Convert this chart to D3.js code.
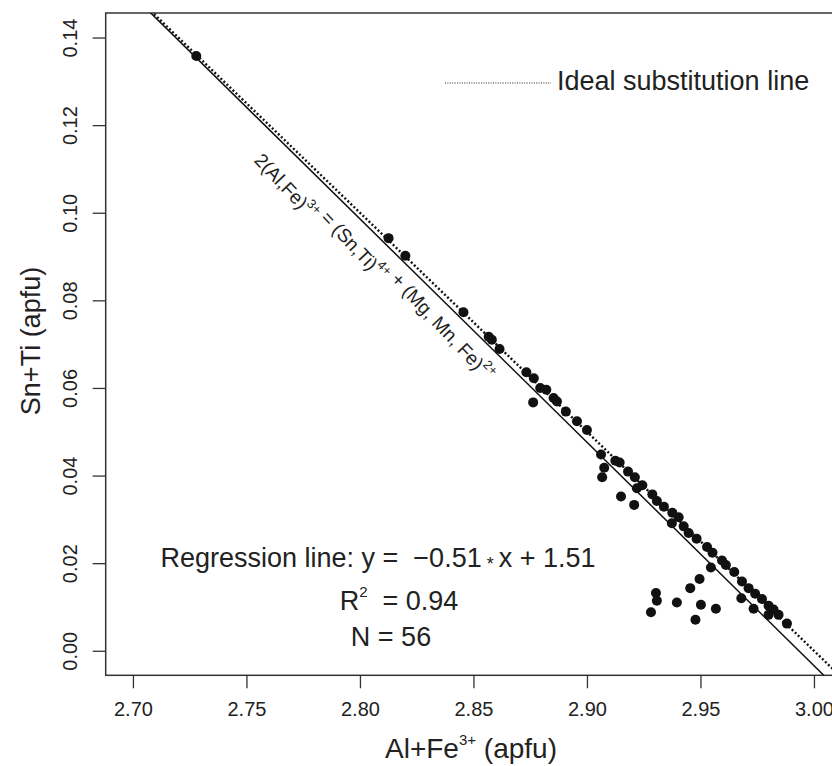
<!DOCTYPE html>
<html>
<head>
<meta charset="utf-8">
<script src="https://cdn.jsdelivr.net/npm/d3@7"></script>
<style>
  html, body { margin: 0; padding: 0; background: #fff; }
  svg text { font-family: "Liberation Sans", Arial, Helvetica, sans-serif; fill: #222; white-space: pre; }
</style>
</head>
<body>
<svg id="chart" width="832" height="766"></svg>
<script>
// ---- data ----
const alFe = [2.7279, 2.8126, 2.8200, 2.8456, 2.8567, 2.8581, 2.8615, 2.8733, 2.8766, 2.8794,
  2.8821, 2.8763, 2.8853, 2.8868, 2.8907, 2.8956, 2.9000, 2.9062, 2.9076, 2.9067,
  2.9125, 2.9144, 2.9181, 2.9211, 2.9244, 2.9220, 2.9150, 2.9208, 2.9288, 2.9308,
  2.9339, 2.9376, 2.9404, 2.9374, 2.9426, 2.9448, 2.9483, 2.9529, 2.9553, 2.9595,
  2.9612, 2.9649, 2.9546, 2.9683, 2.9712, 2.9741, 2.9771, 2.9800, 2.9822, 2.9844,
  2.9881, 2.9800, 2.9680, 2.9734, 2.9496, 2.9455, 2.9304, 2.9308, 2.9282, 2.9396,
  2.9502, 2.9568, 2.9478];
const snTi = [0.1358, 0.0942, 0.0902, 0.0773, 0.0717, 0.0710, 0.0689, 0.0636, 0.0622, 0.0600,
  0.0596, 0.0567, 0.0577, 0.0569, 0.0546, 0.0524, 0.0504, 0.0448, 0.0418, 0.0396,
  0.0434, 0.0430, 0.0409, 0.0396, 0.0378, 0.0371, 0.0352, 0.0333, 0.0357, 0.0342,
  0.0329, 0.0315, 0.0305, 0.0291, 0.0284, 0.0269, 0.0256, 0.0237, 0.0224, 0.0206,
  0.0196, 0.0180, 0.0190, 0.0158, 0.0143, 0.0130, 0.0118, 0.0103, 0.0094, 0.0082,
  0.0062, 0.0082, 0.0120, 0.0096, 0.0164, 0.0143, 0.0132, 0.0114, 0.0088, 0.0110,
  0.0105, 0.0096, 0.0071];
const xTicks = [2.70, 2.75, 2.80, 2.85, 2.90, 2.95, 3.00];
const yTicks = [0.00, 0.02, 0.04, 0.06, 0.08, 0.10, 0.12, 0.14];
const xLim = [2.70, 3.00];
const yLim = [0.00, 0.14];
// fitted regression line (as drawn) and ideal substitution line y = 1.5 - 0.5 x
const regSlope = -0.51, regIntercept = 1.5266;
const idealSlope = -0.5, idealIntercept = 1.5;
const statsText = ["Regression line: y =  \u22120.51", "x + 1.51"];
const r2Value = "0.94";
const nValue = "56";

// ---- layout ----
const svg = d3.select("#chart");
const frame = {left: 105.7, top: 13, right: 841.2, bottom: 675.3};
const padX = (xLim[1] - xLim[0]) * 0.04, padY = (yLim[1] - yLim[0]) * 0.04;
const x = d3.scaleLinear().domain([xLim[0] - padX, xLim[1] + padX]).range([frame.left, frame.right]);
const y = d3.scaleLinear().domain([yLim[0] - padY, yLim[1] + padY]).range([frame.bottom, frame.top]);

svg.append("defs").append("clipPath").attr("id", "clip")
  .append("rect").attr("x", frame.left).attr("y", frame.top)
  .attr("width", frame.right - frame.left).attr("height", frame.bottom - frame.top);

// axes
const xAxis = d3.axisBottom(x).tickValues(xTicks).tickFormat(d3.format(".2f")).tickSize(13).tickSizeOuter(0);
const gx = svg.append("g").attr("transform", `translate(0,${frame.bottom})`).call(xAxis);
gx.select(".domain").remove();
gx.selectAll(".tick line").attr("stroke", "#333").attr("stroke-width", 1.3);
gx.selectAll(".tick text").attr("font-size", 20).attr("dy", null).attr("y", 35).attr("fill", "#222")
  .attr("dominant-baseline", "middle");

const yAxis = d3.axisLeft(y).tickValues(yTicks).tickFormat(d3.format(".2f")).tickSize(13).tickSizeOuter(0);
const gy = svg.append("g").attr("transform", `translate(${frame.left},0)`).call(yAxis);
gy.select(".domain").remove();
gy.selectAll(".tick line").attr("stroke", "#333").attr("stroke-width", 1.3);
gy.selectAll(".tick text").attr("font-size", 20).attr("fill", "#222")
  .attr("x", null).attr("dy", null)
  .attr("text-anchor", "middle").attr("dominant-baseline", "middle")
  .attr("transform", "translate(-34,0) rotate(-90)");

// frame
svg.append("rect").attr("x", frame.left).attr("y", frame.top)
  .attr("width", frame.right - frame.left).attr("height", frame.bottom - frame.top)
  .attr("fill", "none").attr("stroke", "#333").attr("stroke-width", 1.5);

// lines
const plot = svg.append("g").attr("clip-path", "url(#clip)");
const xd = x.domain();
const lineGen = d3.line().x(d => x(d[0])).y(d => y(d[1]));
plot.append("path")
  .attr("d", lineGen(xd.map(v => [v, regIntercept + regSlope * v])))
  .attr("stroke", "#111").attr("stroke-width", 1.5).attr("fill", "none");
plot.append("path")
  .attr("d", lineGen(xd.map(v => [v, idealIntercept + idealSlope * v])))
  .attr("stroke", "#111").attr("stroke-width", 2.4).attr("stroke-dasharray", "2 2.2").attr("fill", "none");

// points
const pts = alFe.map((v, i) => [v, snTi[i]]);
plot.selectAll("circle.pt").data(pts).join("circle")
  .attr("class", "pt").attr("cx", d => x(d[0])).attr("cy", d => y(d[1]))
  .attr("r", 5).attr("fill", "#111");

// legend
svg.append("line").attr("x1", 445).attr("x2", 551).attr("y1", 83).attr("y2", 83)
  .attr("stroke", "#222").attr("stroke-width", 1.2).attr("stroke-dasharray", "1 1.4");
svg.append("text").attr("x", 557).attr("y", 83).attr("font-size", 27)
  .attr("dominant-baseline", "middle").text("Ideal substitution line");

// rotated annotation along the lines (slightly steeper than the line itself)
const p1 = [x(2.75), y(idealIntercept + idealSlope * 2.75)];
const p2 = [x(2.95), y(idealIntercept + idealSlope * 2.95)];
const ang = Math.atan2(p2[1] - p1[1], p2[0] - p1[0]) * 180 / Math.PI + 2.8;
const annX = 2.7530, annY = 0.1118;
const ann = svg.append("text").attr("font-size", 19)
  .attr("transform", `translate(${x(annX)},${y(annY)}) rotate(${ang})`);
const supParts = [["2(Al,Fe)", "3+"], [" = (Sn,Ti)", "4+"], [" + (Mg, Mn, Fe)", "2+"]];
supParts.forEach(([base, sup]) => {
  ann.append("tspan").attr("font-size", 19).attr("dy", 0).text(base);
  ann.append("tspan").attr("font-size", 13).attr("dy", -9).text(sup);
  ann.append("tspan").attr("font-size", 19).attr("dy", 9).text("");
});

// stats block
const cx = 378;
const t1 = svg.append("text").attr("x", cx).attr("y", 567).attr("font-size", 27).attr("text-anchor", "middle");
t1.append("tspan").text(statsText[0]);
t1.append("tspan").attr("font-size", 18).attr("dy", 3).text(" * ");
t1.append("tspan").attr("dy", -3).text(statsText[1]);

const t2 = svg.append("text").attr("x", cx + 21).attr("y", 610).attr("font-size", 27).attr("text-anchor", "middle");
t2.append("tspan").text("R");
t2.append("tspan").attr("font-size", 15).attr("dy", -13).text("2");
t2.append("tspan").attr("dy", 13).text("  = " + r2Value);

svg.append("text").attr("x", cx + 13).attr("y", 646).attr("font-size", 27).attr("text-anchor", "middle")
  .text("N = " + nValue);

// axis titles
const xt = svg.append("text").attr("x", 471).attr("y", 758).attr("font-size", 28).attr("text-anchor", "middle");
xt.append("tspan").text("Al+Fe");
xt.append("tspan").attr("font-size", 15).attr("dy", -13).text("3+");
xt.append("tspan").attr("dy", 13).text(" (apfu)");

svg.append("text").attr("transform", "translate(40,341) rotate(-90)").attr("font-size", 27)
  .attr("text-anchor", "middle").text("Sn+Ti (apfu)");
</script>
</body>
</html>
